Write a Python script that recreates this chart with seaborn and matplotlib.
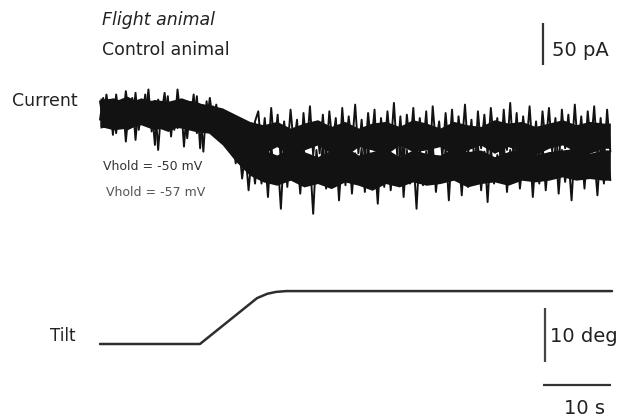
import numpy as np
import pandas as pd
import matplotlib
matplotlib.use("Agg")
import matplotlib.pyplot as plt
import seaborn as sns

sns.set_theme(style="white")
plt.rcParams['font.family'] = ['DejaVu Sans']

# ---------------- data ----------------
sample_interval_s = 0.475

flight_current_pA = [
    14, -10, 22, -6, 16, -24, 10, -12, 26, -4, 18, -32, 12, -8, 22, -16, 8, -38,
    16, -2, 24, -12, 12, -20, 28, -6, 14, -30, 10, -10, 20, -42, 8, -14, 18, -10,
    10, -20, 4, -28, -2, -36, -8, -44, -12, -52, -14, -50, -10,
    2, -44, -6, -52, 6, -40, -2, -58, -10, -46,
    4, -38, -8, -66, 0, -42, 8, -50, -12, -48,
    -2, -54, 2, -36, -6, -62, 6, -44, -4, -40,
    10, -48, -8, -56, 0, -38, 4, -70, -6, -46,
    2, -42, 12, -50, -4, -60, -2, -40, 6, -54,
    -6, -44, 2, -64, 8, -38, -10, -52, 0, -46,
    4, -58, -4, -40, 10, -48, -8, -66, 2, -42,
    -2, -50, 6, -36, -6, -56, 4, -44, 12, -52,
    0, -62, -4, -40, 8, -48, -10, -54, 2, -38,
    6, -46, -6, -68, 4, -42, -2, -50, 10, -44,
    -4, -56, 2, -40, 8, -52, -6, -60, 4, -46,
]

control_current_pA = [
    -8, 18, -16, 12, -26, 22, -10, 16, -34, 8, -14, 24, -20, 10, -6, 28, -22, 14,
    -44, 6, -12, 20, -28, 12, -18, 16, -40, 10, -8, 22, -24, 4, -46, 14, -20, 8,
    -12, 2, -26, -8, -44, -20, -60, -36, -78, -46, -92, -50, -84,
    -40, -84, -48, -100, -38, -76, -54, -114, -42, -88,
    -36, -80, -50, -96, -40, -72, -56, -120, -44, -82,
    -34, -90, -52, -78, -40, -104, -46, -86, -38, -96,
    -48, -76, -42, -94, -36, -82, -54, -108, -40, -88,
    -38, -92, -50, -80, -34, -100, -44, -84, -52, -114,
    -40, -86, -46, -76, -36, -94, -56, -82, -42, -104,
    -40, -78, -48, -98, -38, -88, -52, -76, -36, -92,
    -46, -106, -40, -84, -50, -74, -34, -94, -44, -82,
    -38, -90, -54, -78, -40, -100, -46, -84, -36, -92,
    -48, -76, -40, -96, -44, -82, -52, -104, -38, -78,
    -42, -90, -36, -76, -50, -98, -40, -84, -46, -80,
]

# dense core of each noisy trace (upper / lower edge of the solid band)
envelope_time_s = [0, 2, 4, 6, 8, 10, 12, 14, 16, 18, 20, 22, 24, 26, 28, 30,
                   32, 34, 36, 38, 40, 42, 44, 46, 48, 50, 52, 54, 56, 58, 60,
                   62, 64, 66, 68, 70, 72, 74]
flight_band_top_pA = [18, 14, 20, 12, 16, 14, 18, 12, 10, 6, -2, -10,
                      -14, -10, -18, -12, -8, -16, -10, -18, -12, -10, -16, -8, -12,
                      -18, -10, -14, -16, -8, -12, -10, -16, -12, -8, -14, -10, -12]
flight_band_bottom_pA = [-18, -14, -20, -12, -16, -22, -14, -18, -22, -30, -40, -46,
                         -48, -40, -50, -44, -38, -48, -52, -40, -44, -50, -38, -46, -44,
                         -40, -50, -44, -38, -48, -40, -46, -50, -42, -38, -46, -48, -42]
control_band_top_pA = [16, 18, 12, 18, 14, 12, 16, 14, 8, -2, -18, -34,
                       -44, -50, -42, -46, -52, -44, -40, -50, -46, -42, -52, -44, -48,
                       -50, -42, -46, -44, -52, -46, -42, -50, -46, -44, -42, -48, -44]
control_band_bottom_pA = [-16, -20, -18, -14, -20, -16, -18, -22, -24, -38, -58, -74,
                          -82, -86, -80, -88, -84, -90, -82, -86, -92, -84, -88, -82, -86,
                          -84, -80, -88, -84, -82, -86, -80, -82, -80, -76, -80, -78, -80]

tilt_time_s = [0.0, 14.7, 23.1, 24.6, 25.9, 27.4, 75.3]
tilt_deg = [0.0, 0.0, 8.5, 9.3, 9.65, 9.8, 9.8]

animal_labels = ["Flight animal", "Control animal"]
vhold_labels = ["Vhold = -50 mV", "Vhold = -57 mV"]

# ---------------- tables ----------------
frames = []
for name, vals in zip(animal_labels, [flight_current_pA, control_current_pA]):
    frames.append(pd.DataFrame({
        "time": np.arange(len(vals)) * sample_interval_s,
        "current": vals,
        "animal": name,
    }))
df_cur = pd.concat(frames, ignore_index=True)
df_tilt = pd.DataFrame({"time": tilt_time_s, "tilt": tilt_deg})

# ---------------- layout ----------------
W, H = 617, 420
fig = plt.figure(figsize=(W / 100, H / 100), dpi=100)
fig.patch.set_facecolor("white")

px_per_s = 6.8
x0_px = 100
xlim = (-x0_px / px_per_s, (W - x0_px) / px_per_s)

split_px = 250
ax_cur = fig.add_axes([0, (H - split_px) / H, 1, split_px / H])
ax_tilt = fig.add_axes([0, 0, 1, (H - split_px) / H])

pA_per_px = 50 / 42
cur_zero_px = 113
ax_cur.set_xlim(*xlim)
ax_cur.set_ylim(-(split_px - cur_zero_px) * pA_per_px, cur_zero_px * pA_per_px)

deg_per_px = 10 / 54
tilt_zero_px = 344
ax_tilt.set_xlim(*xlim)
ax_tilt.set_ylim(-(H - tilt_zero_px) * deg_per_px, (tilt_zero_px - split_px) * deg_per_px)

trace_color = "#121212"
t_end = (len(flight_current_pA) - 1) * sample_interval_s
env_t = list(envelope_time_s) + [t_end]
for top, bot in [(flight_band_top_pA, flight_band_bottom_pA),
                 (control_band_top_pA, control_band_bottom_pA)]:
    ax_cur.fill_between(env_t, list(top) + [top[-1]], list(bot) + [bot[-1]],
                        color=trace_color, linewidth=0)

sns.lineplot(data=df_cur, x="time", y="current", hue="animal",
             palette=[trace_color, trace_color], estimator=None, sort=False,
             linewidth=1.4, legend=False, ax=ax_cur)
sns.lineplot(data=df_tilt, x="time", y="tilt", color="#2e2e2e",
             estimator=None, sort=False, linewidth=1.8, legend=False, ax=ax_tilt)

for ax in (ax_cur, ax_tilt):
    ax.set_axis_off()

# ---------------- scale bars ----------------
bar_t = (543 - x0_px) / px_per_s
ax_cur.plot([bar_t, bar_t], [(cur_zero_px - 65) * pA_per_px,
                             (cur_zero_px - 65) * pA_per_px + 50],
            color="#333333", lw=1.6, solid_capstyle="butt")
deg_bar_t = (545 - x0_px) / px_per_s
deg_bot = (tilt_zero_px - 362) * deg_per_px
ax_tilt.plot([deg_bar_t, deg_bar_t], [deg_bot, deg_bot + 10],
             color="#444444", lw=1.6, solid_capstyle="butt")
s_bar_y = (tilt_zero_px - 385) * deg_per_px
ax_tilt.plot([bar_t, bar_t + 10], [s_bar_y, s_bar_y],
             color="#333333", lw=1.6, solid_capstyle="butt")

# ---------------- text ----------------
def ftext(px, py, s, **kw):
    fig.text(px / W, 1 - py / H, s, **kw)

ftext(102, 20, animal_labels[0], fontsize=12.5, style="italic",
      color="#222222", va="center", ha="left")
ftext(102, 50, animal_labels[1], fontsize=12.5, color="#222222",
      va="center", ha="left")
ftext(12, 101, "Current", fontsize=12.5, color="#222222", va="center", ha="left")
ftext(103, 167, vhold_labels[0], fontsize=9, color="#333333", va="center", ha="left")
ftext(106, 193, vhold_labels[1], fontsize=9, color="#555555", va="center", ha="left")
ftext(50, 336, "Tilt", fontsize=12, color="#222222", va="center", ha="left")
ftext(552, 50, "50 pA", fontsize=14, color="#222222", va="center", ha="left")
ftext(550, 336, "10 deg", fontsize=14, color="#222222", va="center", ha="left")
ftext(585, 408, "10 s", fontsize=14, color="#222222", va="center", ha="center")

fig.savefig("out.png", dpi=100, facecolor="white")
